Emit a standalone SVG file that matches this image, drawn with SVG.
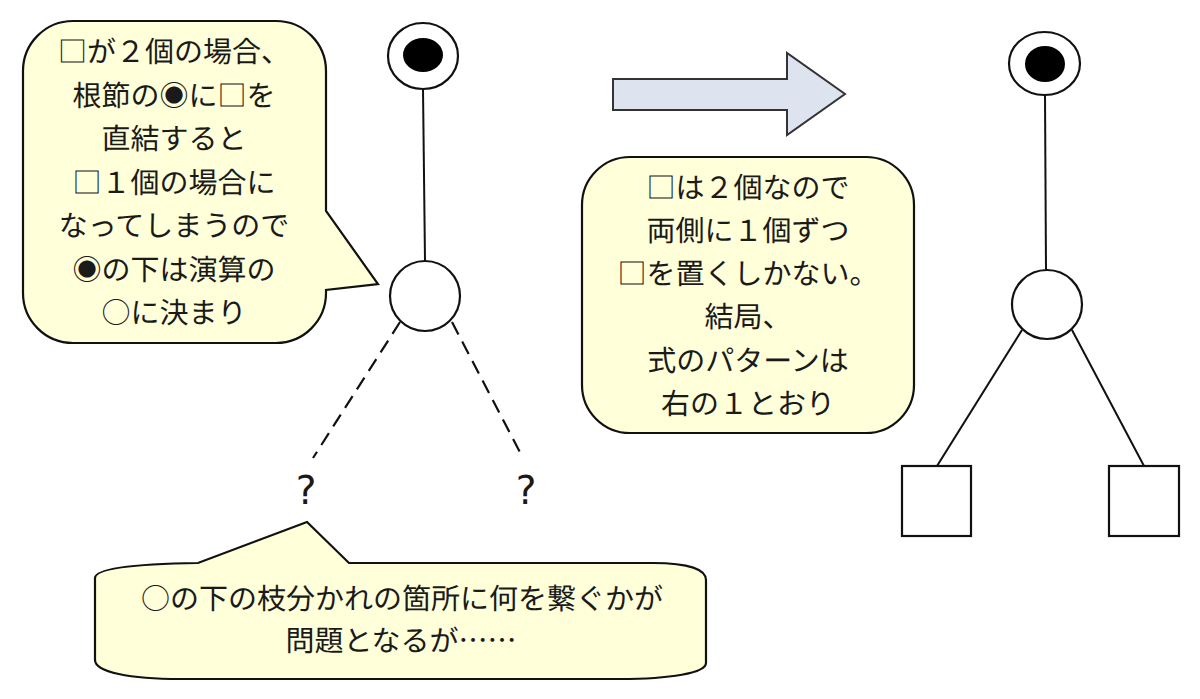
<svg xmlns="http://www.w3.org/2000/svg" width="1200" height="699" viewBox="0 0 1200 699">
<style>
.bub{fill:#ffffd9;stroke:#111;stroke-width:2.2;stroke-linejoin:miter}
.nd{fill:#fff;stroke:#111;stroke-width:2.2}
.dot{fill:#000}
.ln{stroke:#111;stroke-width:2;fill:none}
.dash{stroke:#111;stroke-width:2.2;fill:none;stroke-dasharray:14 8}
.t{font-family:"Noto Sans CJK JP","Noto Sans",sans-serif;font-size:29px;fill:#1a1a1a;text-anchor:middle;text-rendering:geometricPrecision}
.sq{font-family:"Noto Sans CJK JP",sans-serif;fill:#1a1a1a}
.q{font-family:"DejaVu Sans",sans-serif;font-size:39px;fill:#1a1a1a;text-anchor:middle}
</style>
<rect width="1200" height="699" fill="#fff"/>
<g id="connectors">
<line class="ln" x1="423" y1="89" x2="425" y2="261"/>
<line class="dash" x1="400" y1="322" x2="313" y2="458"/>
<line class="dash" x1="452" y1="322" x2="523" y2="458"/>
<line class="ln" x1="1045" y1="95" x2="1046" y2="270"/>
<line class="ln" x1="1022" y1="330" x2="937" y2="466"/>
<line class="ln" x1="1072" y1="330" x2="1144" y2="466"/>
</g>
<g id="bubble-left">
<path class="bub" d="M73,21 H276 A50,50 0 0 1 326,71 V211 L378,284 L326,290 V293 A50,50 0 0 1 276,343 H73 A50,50 0 0 1 23,293 V71 A50,50 0 0 1 73,21 Z"/>
<text class="t" x="174" y="62">□が２個の場合、</text>
<text class="t" x="174" y="105.5">根節の◉に<tspan class="sq">□</tspan>を</text>
<text class="t" x="174" y="149">直結すると</text>
<text class="t" x="174" y="192.5">□１個の場合に</text>
<text class="t" x="174" y="236">なってしまうので</text>
<text class="t" x="174" y="279.5">◉の下は演算の</text>
<text class="t" x="174" y="323">○に決まり</text>
</g>
<g id="left-root">
<ellipse class="nd" cx="423" cy="56" rx="35" ry="33"/>
<ellipse class="dot" cx="423" cy="55" rx="20" ry="17"/>
</g>
<g id="left-op">
<ellipse class="nd" cx="425" cy="296" rx="35" ry="35"/>
</g>
<g id="q-left"><text class="q" x="306" y="504">?</text></g>
<g id="q-right"><text class="q" x="526" y="504">?</text></g>
<g id="bubble-bottom">
<path class="bub" d="M95,578 C95,569 130,564 198,563 L307,522 L349,563 L653,563 C690,563 706,570 706,580 V663 C706,673 670,679 620,679 H180 C130,679 95,672 95,660 Z"/>
<text class="t" x="402" y="609">○の下の枝分かれの箇所に何を繋ぐかが</text>
<text class="t" x="401" y="651">問題となるが……</text>
</g>
<g id="arrow">
<path d="M613,79 H787 V53 L845,94 L787,135 V110 H613 Z" fill="#dee4ef" stroke="#333" stroke-width="2"/>
</g>
<g id="bubble-middle">
<rect class="bub" x="582" y="157" width="332" height="276" rx="48" ry="48"/>
<text class="t" x="748" y="198">□は２個なので</text>
<text class="t" x="748" y="241">両側に１個ずつ</text>
<text class="t" x="748" y="284"><tspan class="sq">□</tspan>を置くしかない。</text>
<text class="t" x="748" y="327">結局、</text>
<text class="t" x="748" y="371">式のパターンは</text>
<text class="t" x="748" y="414">右の１とおり</text>
</g>
<g id="right-root">
<ellipse class="nd" cx="1044.5" cy="63.5" rx="35.5" ry="31.5"/>
<ellipse class="dot" cx="1045" cy="64" rx="20" ry="18"/>
</g>
<g id="right-op">
<ellipse class="nd" cx="1047" cy="304.5" rx="35" ry="34.5"/>
</g>
<g id="right-leaf-left">
<rect class="nd" x="902" y="466" width="69" height="70"/>
</g>
<g id="right-leaf-right">
<rect class="nd" x="1109" y="466" width="70" height="70"/>
</g>
</svg>
